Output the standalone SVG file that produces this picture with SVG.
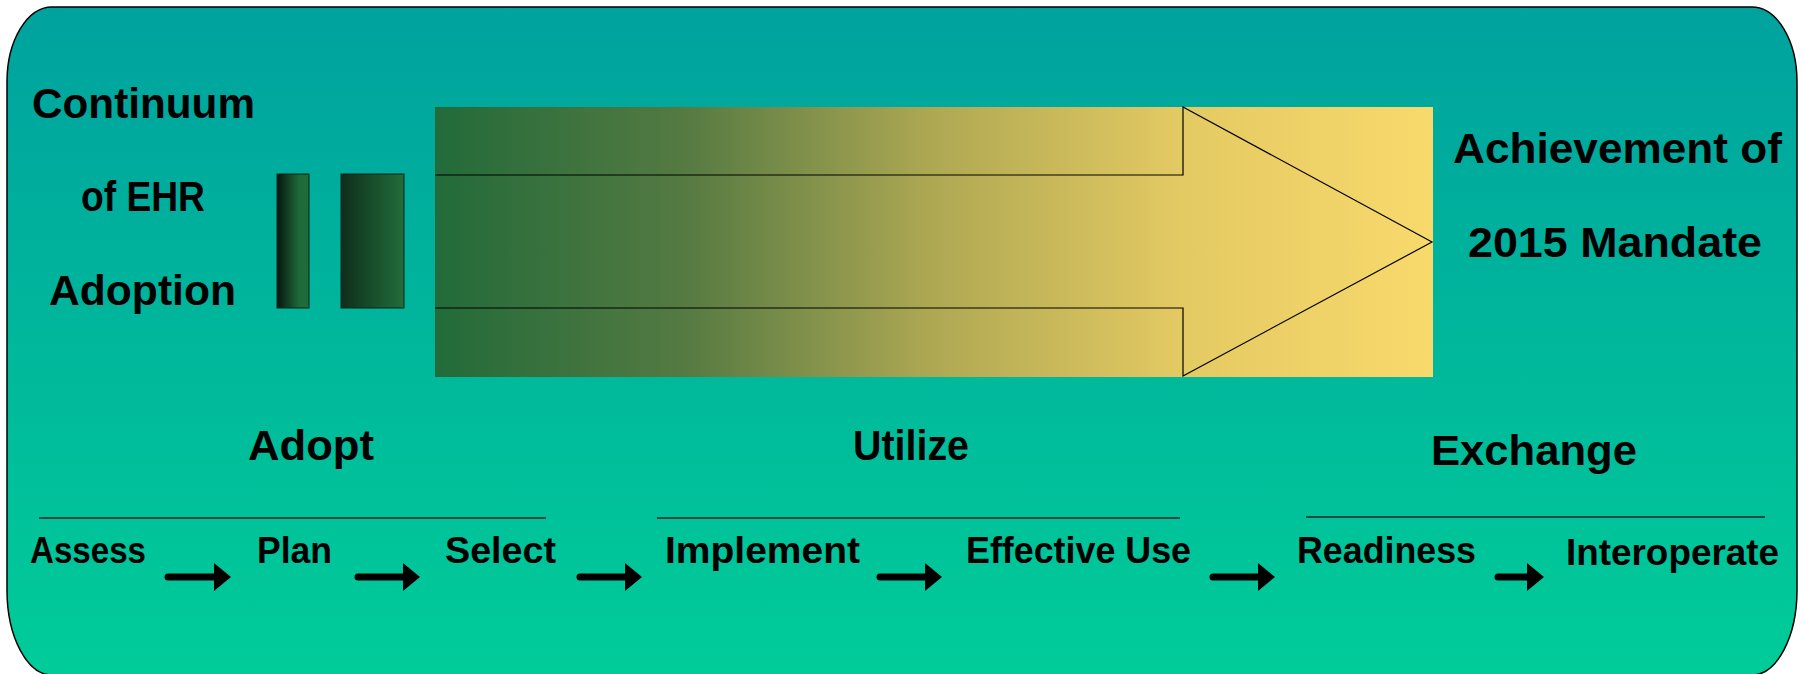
<svg xmlns="http://www.w3.org/2000/svg" width="1804" height="674" viewBox="0 0 1804 674">
<defs>
<linearGradient id="bg" x1="0" y1="0" x2="0" y2="1">
<stop offset="0" stop-color="#00A29E"/>
<stop offset="1" stop-color="#00CC99"/>
</linearGradient>
<linearGradient id="big" x1="0" y1="0" x2="1" y2="0">
<stop offset="0" stop-color="#226B3A"/>
<stop offset="0.25" stop-color="#557A42"/>
<stop offset="0.5" stop-color="#AFA853"/>
<stop offset="0.75" stop-color="#E4CA63"/>
<stop offset="1" stop-color="#F8D96C"/>
</linearGradient>
<linearGradient id="bar1" x1="0" y1="0" x2="1" y2="0">
<stop offset="0" stop-color="#06150D"/>
<stop offset="0.7" stop-color="#1F6B3A"/>
<stop offset="1" stop-color="#1F6B3A"/>
</linearGradient>
<linearGradient id="bar2" x1="0" y1="0" x2="1" y2="0">
<stop offset="0" stop-color="#0F2E1B"/>
<stop offset="1" stop-color="#226D3C"/>
</linearGradient>
</defs>
<style>
text{font-family:"Liberation Sans",Arial,sans-serif;font-weight:bold;fill:#000}
.big{font-size:42px}
.lbl{font-size:36px}
.rule{stroke:#1E4A44;stroke-width:2}
.conn{fill:#000;stroke:none}
</style>
<rect width="1804" height="674" fill="#FFFFFF"/>
<g id="frame">
<path d="M52,7 H1752 A45,75 0 0 1 1797,82 V590 A45,85 0 0 1 1752,675 H52 A45,85 0 0 1 7,590 V82 A45,75 0 0 1 52,7 Z" fill="url(#bg)" stroke="#000" stroke-width="1.5"/>
</g>
<g id="title">
<text class="big" x="32" y="118" textLength="223" lengthAdjust="spacingAndGlyphs">Continuum</text>
<text class="big" x="81" y="211" textLength="124" lengthAdjust="spacingAndGlyphs">of EHR</text>
<text class="big" x="49" y="305" textLength="187" lengthAdjust="spacingAndGlyphs">Adoption</text>
</g>
<g id="bars">
<rect x="277" y="174" width="32" height="134" fill="url(#bar1)" stroke="#0B2416" stroke-width="1"/>
<rect x="341" y="174" width="63" height="134" fill="url(#bar2)" stroke="#0B2416" stroke-width="1"/>
</g>
<g id="big-arrow">
<rect x="435" y="107" width="998" height="270" fill="url(#big)"/>
<path d="M435,175 H1183 V107 L1432,242 L1183,376 V308 H435" fill="none" stroke="#000" stroke-width="1.2"/>
</g>
<g id="goal">
<text class="big" x="1453" y="163" textLength="329" lengthAdjust="spacingAndGlyphs">Achievement of</text>
<text class="big" x="1468" y="257" textLength="294" lengthAdjust="spacingAndGlyphs">2015 Mandate</text>
</g>
<g id="phase-adopt">
<text class="big" x="248" y="460" textLength="126" lengthAdjust="spacingAndGlyphs">Adopt</text>
<line class="rule" x1="39" y1="518" x2="546" y2="518"/>
</g>
<g id="phase-utilize">
<text class="big" x="853" y="460" textLength="116" lengthAdjust="spacingAndGlyphs">Utilize</text>
<line class="rule" x1="657" y1="518" x2="1180" y2="518"/>
</g>
<g id="phase-exchange">
<text class="big" x="1431" y="465" textLength="206" lengthAdjust="spacingAndGlyphs">Exchange</text>
<line class="rule" x1="1306" y1="517" x2="1765" y2="517"/>
</g>
<g id="step-assess"><text class="lbl" x="30" y="563" textLength="116" lengthAdjust="spacingAndGlyphs">Assess</text></g>
<g id="step-plan"><text class="lbl" x="257" y="563" textLength="75" lengthAdjust="spacingAndGlyphs">Plan</text></g>
<g id="step-select"><text class="lbl" x="445" y="563" textLength="111" lengthAdjust="spacingAndGlyphs">Select</text></g>
<g id="step-implement"><text class="lbl" x="665" y="563" textLength="195" lengthAdjust="spacingAndGlyphs">Implement</text></g>
<g id="step-effective-use"><text class="lbl" x="966" y="563" textLength="225" lengthAdjust="spacingAndGlyphs">Effective Use</text></g>
<g id="step-readiness"><text class="lbl" x="1297" y="563" textLength="179" lengthAdjust="spacingAndGlyphs">Readiness</text></g>
<g id="step-interoperate"><text class="lbl" x="1566" y="565" textLength="213" lengthAdjust="spacingAndGlyphs">Interoperate</text></g>
<g id="connectors">
<path class="conn" d="M168,573.5 H214 V563 L231,577 L214,591 V580.5 H168 A3.5,3.5 0 0 1 168,573.5 Z"/>
<path class="conn" d="M358,573.5 H403 V563 L420,577 L403,591 V580.5 H358 A3.5,3.5 0 0 1 358,573.5 Z"/>
<path class="conn" d="M580,573.5 H625 V563 L642,577 L625,591 V580.5 H580 A3.5,3.5 0 0 1 580,573.5 Z"/>
<path class="conn" d="M880,573.5 H925 V563 L942,577 L925,591 V580.5 H880 A3.5,3.5 0 0 1 880,573.5 Z"/>
<path class="conn" d="M1213,573.5 H1258 V563 L1275,577 L1258,591 V580.5 H1213 A3.5,3.5 0 0 1 1213,573.5 Z"/>
<path class="conn" d="M1498,573.5 H1527 V563 L1544,577 L1527,591 V580.5 H1498 A3.5,3.5 0 0 1 1498,573.5 Z"/>
</g>
</svg>
